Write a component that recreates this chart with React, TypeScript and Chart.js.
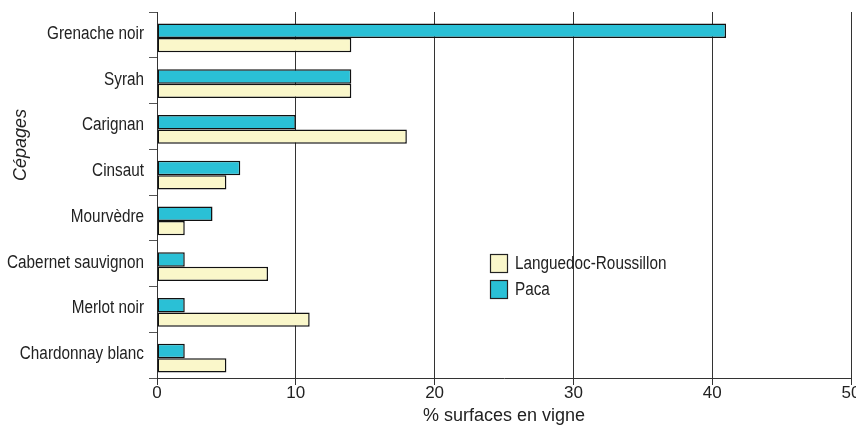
import React, { useEffect, useRef } from "react";
import { Chart, registerables } from "chart.js";

Chart.register(...registerables);

const categories = [
  "Grenache noir",
  "Syrah",
  "Carignan",
  "Cinsaut",
  "Mourvèdre",
  "Cabernet sauvignon",
  "Merlot noir",
  "Chardonnay blanc",
];
const pacaValues = [41, 14, 10, 6, 4, 2, 2, 2];
const lrValues = [14, 14, 18, 5, 2, 8, 11, 5];
const xTicks = [0, 10, 20, 30, 40, 50];
const pacaLabel = "Paca";
const lrLabel = "Languedoc-Roussillon";
const xTitle = "% surfaces en vigne";
const yTitle = "Cépages";

const SANS = '"Liberation Sans", Arial, sans-serif';
const TEXT = "#222";
const SQUEEZE = 0.85;

function drawNarrow(ctx: any, text: string, x: number, y: number, align: "left" | "right") {
  ctx.save();
  ctx.translate(x, y);
  ctx.scale(SQUEEZE, 1);
  ctx.textAlign = align;
  ctx.textBaseline = "middle";
  ctx.fillText(text, 0, 0);
  ctx.restore();
}

const barShiftPlugin = {
  id: "barShift",
  beforeDatasetsDraw(chart: any) {
    chart.ctx.save();
    chart.ctx.translate(0, 3);
  },
  afterDatasetsDraw(chart: any) {
    chart.ctx.restore();
  },
};

const narrowLabelsPlugin = {
  id: "narrowLabels",
  afterDraw(chart: any) {
    const ctx = chart.ctx;
    const ys = chart.scales.y;
    ctx.save();
    ctx.font = `18px ${SANS}`;
    ctx.fillStyle = TEXT;
    ys.ticks.forEach((_t: any, i: number) => {
      const label = ys.getLabelForValue(i);
      drawNarrow(ctx, label, ys.right - 13, ys.getPixelForTick(i) - 1, "right");
    });
    // legend
    const ds = chart.data.datasets.slice().reverse();
    const x0 = 490;
    let y0 = 254;
    ds.forEach((d: any) => {
      ctx.fillStyle = d.backgroundColor;
      ctx.fillRect(x0, y0, 17, 18);
      ctx.strokeStyle = "#222";
      ctx.lineWidth = 1.2;
      ctx.strokeRect(x0 + 0.5, y0 + 0.5, 17, 18);
      ctx.fillStyle = TEXT;
      drawNarrow(ctx, d.label, x0 + 25, y0 + 10, "left");
      y0 += 26;
    });
    // y title
    ctx.translate(21, 145);
    ctx.rotate(-Math.PI / 2);
    ctx.font = `italic 18px ${SANS}`;
    ctx.textAlign = "center";
    ctx.textBaseline = "middle";
    ctx.fillText(yTitle, 0, 0);
    ctx.restore();
  },
};

export default function App() {
  const ref = useRef<HTMLCanvasElement | null>(null);

  useEffect(() => {
    document.body.style.margin = "0";
    if (!ref.current) return;
    const chart = new Chart(ref.current, {
      type: "bar",
      data: {
        labels: categories,
        datasets: [
          {
            label: pacaLabel,
            data: pacaValues,
            backgroundColor: "#2AC0D6",
            borderColor: "#111",
            borderWidth: 1.5,
            borderSkipped: false,
            categoryPercentage: 0.63,
            barPercentage: 1,
          },
          {
            label: lrLabel,
            data: lrValues,
            backgroundColor: "#FAF7CA",
            borderColor: "#111",
            borderWidth: 1.5,
            borderSkipped: false,
            categoryPercentage: 0.63,
            barPercentage: 1,
          },
        ],
      },
      options: {
        indexAxis: "y",
        animation: false,
        responsive: false,
        maintainAspectRatio: false,
        layout: { padding: { top: 12, right: 5, left: 0, bottom: 0 } },
        plugins: {
          legend: { display: false },
          tooltip: { enabled: false },
        },
        scales: {
          x: {
            type: "linear",
            min: 0,
            max: 50,
            position: "bottom",
            afterBuildTicks: (s: any) => {
              s.ticks = xTicks.map((v) => ({ value: v }));
            },
            ticks: { font: { family: SANS, size: 17 }, color: TEXT, padding: -2, maxRotation: 0 },
            grid: { color: "#333", lineWidth: 1, tickLength: 7, drawOnChartArea: true },
            border: { display: true, color: "#333" },
            title: {
              display: true,
              text: xTitle,
              font: { family: SANS, size: 18 },
              color: TEXT,
              padding: { top: 2, bottom: 3 },
            },
            afterFit: (s: any) => {
              s.height = 52;
              s.paddingLeft = 0;
              s.paddingRight = 0;
            },
          } as any,
          y: {
            type: "category",
            offset: true,
            grid: { offset: true, drawOnChartArea: false, drawTicks: true, tickLength: 8, color: "#555" },
            border: { display: true, color: "#333" },
            ticks: { display: false },
            afterFit: (s: any) => {
              s.width = 157;
              s.paddingTop = 0;
              s.paddingBottom = 0;
            },
          } as any,
        },
      },
      plugins: [barShiftPlugin, narrowLabelsPlugin],
    } as any);
    return () => chart.destroy();
  }, []);

  return (
    <div style={{ width: 856, height: 430 }}>
      <canvas ref={ref} width={856} height={430} style={{ display: "block" }} />
    </div>
  );
}
